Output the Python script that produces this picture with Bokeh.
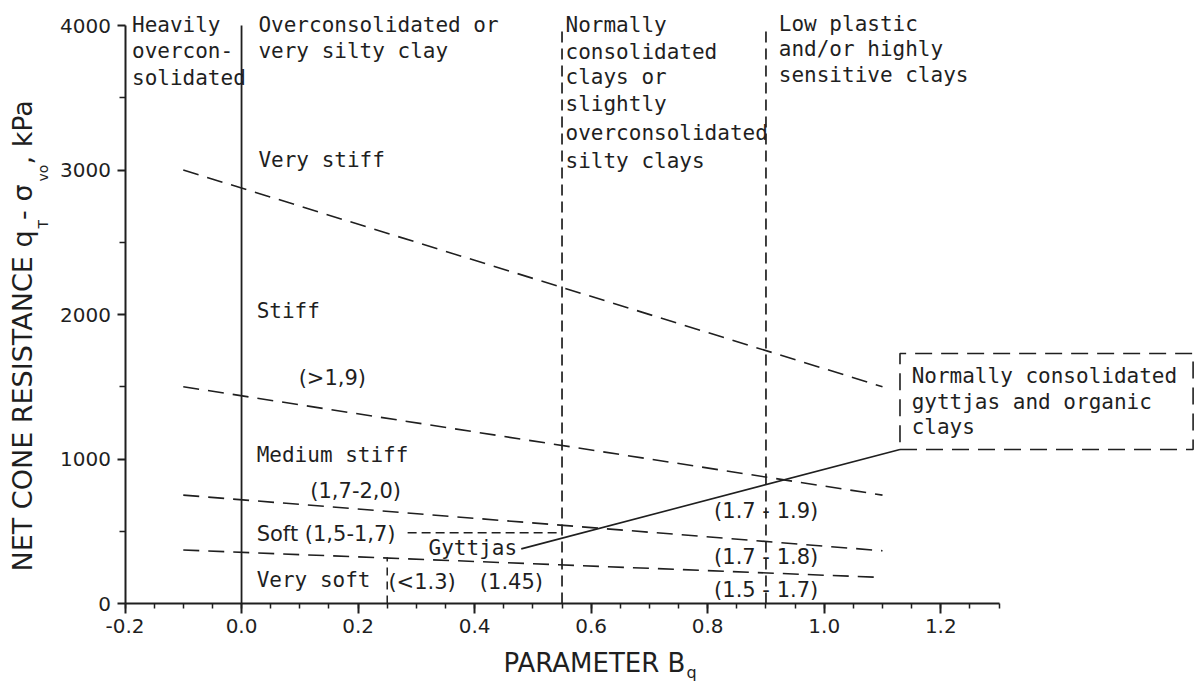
import math
from bokeh.plotting import figure
from bokeh.models import Range1d, FixedTicker, PrintfTickFormatter, ColumnDataSource
from bokeh.core.properties import value
from bokeh.embed import file_html
from bokeh.resources import INLINE

# ---------------- data ----------------
x_ticks = [-0.2, 0.0, 0.2, 0.4, 0.6, 0.8, 1.0, 1.2]
x_minor = [-0.2, -0.15, -0.1, -0.05, 0.0, 0.05, 0.1, 0.15, 0.2, 0.25, 0.3, 0.35,
           0.4, 0.45, 0.5, 0.55, 0.6, 0.65, 0.7, 0.75, 0.8, 0.85, 0.9, 0.95,
           1.0, 1.05, 1.1, 1.15, 1.2, 1.25, 1.3]
y_ticks = [0, 1000, 2000, 3000, 4000]
y_minor = [500, 1500, 2500, 3500]

# stiffness boundaries (dashed, sloping)
bound_x0 = [-0.1, -0.1, -0.1, -0.1]
bound_y0 = [3000, 1500, 750, 370]
bound_x1 = [1.1, 1.1, 1.1, 1.1]
bound_y1 = [1500, 750, 365, 180]

# soil type dividers
solid_div_x = [0.0]
solid_div_top = [4000]
dashed_div_x = [0.55, 0.9]
dashed_div_top = [3970, 3970]
vsoft_div_x = [0.25]
vsoft_div_top = [320]
gyttja_upper_x = [0.285, 0.55]
gyttja_upper_y = [490, 490]

# gyttja / organic clay line
gyttja_x = [0.48, 1.13]
gyttja_y = [378, 1066]

# organic clay box
box_x = [1.13, 1.633]
box_y = [1066, 1730]

# region text (lettering)
word_text = ["Heavily", "overcon-", "solidated",
             "Overconsolidated or", "very silty clay",
             "Normally", "consolidated", "clays or", "slightly", "overconsolidated", "silty clays",
             "Low plastic", "and/or highly", "sensitive clays",
             "Very stiff", "Stiff", "Medium stiff", "Very soft", "Gyttjas",
             "Normally consolidated", "gyttjas and organic", "clays"]
word_x = [-0.188, -0.188, -0.188,
          0.029, 0.029,
          0.556, 0.556, 0.556, 0.556, 0.556, 0.556,
          0.922, 0.922, 0.922,
          0.029, 0.026, 0.026, 0.026, 0.321,
          1.150, 1.150, 1.150]
word_y = [3945, 3765, 3578,
          3945, 3765,
          3945, 3758, 3585, 3398, 3204, 3010,
          3952, 3779, 3599,
          3017, 1972, 969, 104, 332,
          1522, 1336, 1163]

# numeric class text
num_text = ["(>1,9)", "(1,7-2,0)", "Soft (1,5-1,7)", "(<1.3)", "(1.45)",
            "(1.7 - 1.9)", "(1.7 - 1.8)", "(1.5 - 1.7)"]
num_x = [0.098, 0.118, 0.026, 0.252, 0.409, 0.811, 0.811, 0.811]
num_y = [1502, 720, 425, 90, 90, 588, 263, 35]

INK = "#1f1f1f"

# canvas geometry: frame covers the whole canvas, axes are fixed at x=-0.2 / y=0
W, H = 1196, 684
PXX = 582.7   # px per unit of B_q
PXY = 0.1445  # px per kPa
X0PX = 124.5  # canvas px of B_q = -0.2
Y0PX = 603.0  # canvas px of 0 kPa


def px_to_x(px):
    return (px - X0PX) / PXX - 0.2


def py_to_y(py):
    return (Y0PX - py) / PXY


p = figure(width=W, height=H,
           x_range=Range1d(px_to_x(0), px_to_x(W)), y_range=Range1d(py_to_y(H), py_to_y(0)),
           output_backend="svg", toolbar_location=None,
           min_border_left=0, min_border_bottom=0, min_border_top=0, min_border_right=0)
p.outline_line_color = None
p.xgrid.grid_line_color = None
p.ygrid.grid_line_color = None
p.background_fill_color = "white"
p.border_fill_color = "white"

for ax in (p.xaxis, p.yaxis):
    ax.axis_line_width = 2
    ax.axis_line_color = INK
    ax.major_tick_line_width = 2
    ax.major_tick_line_color = INK
    ax.minor_tick_line_width = 1.5
    ax.minor_tick_line_color = INK
    ax.major_tick_in = 0
    ax.minor_tick_in = 0
    ax.major_label_text_font = "DejaVu Sans"
    ax.major_label_text_font_size = "20px"
    ax.major_label_text_color = INK

p.xaxis.ticker = FixedTicker(ticks=x_ticks, minor_ticks=x_minor)
p.xaxis.formatter = PrintfTickFormatter(format="%.1f")
p.xaxis.bounds = (-0.2, 1.3)
p.xaxis.fixed_location = 0
p.xaxis.major_tick_out = 10
p.xaxis.minor_tick_out = 5
p.xaxis.major_label_standoff = 5

p.yaxis.ticker = FixedTicker(ticks=y_ticks, minor_ticks=y_minor)
p.yaxis.bounds = (0, 4000)
p.yaxis.fixed_location = -0.2
p.yaxis.major_tick_out = 8
p.yaxis.minor_tick_out = 6
p.yaxis.major_label_standoff = 6

# stiffness boundaries
p.segment(x0=bound_x0, y0=bound_y0, x1=bound_x1, y1=bound_y1,
          line_color=INK, line_width=1.6, line_dash="16 9")

# soil type dividers
p.segment(x0=solid_div_x, y0=[0] * len(solid_div_x), x1=solid_div_x, y1=solid_div_top,
          line_color=INK, line_width=1.8)
p.segment(x0=dashed_div_x, y0=[0] * len(dashed_div_x), x1=dashed_div_x, y1=dashed_div_top,
          line_color=INK, line_width=1.7, line_dash="11 6")
p.segment(x0=vsoft_div_x, y0=[0], x1=vsoft_div_x, y1=vsoft_div_top,
          line_color=INK, line_width=1.5, line_dash="8 6")
p.line(x=gyttja_upper_x, y=gyttja_upper_y, line_color=INK, line_width=1.5, line_dash="9 5")

# gyttja line
p.line(x=gyttja_x, y=gyttja_y, line_color=INK, line_width=1.6)

# organic clay box
p.line(x=[box_x[0], box_x[1], box_x[1], box_x[0], box_x[0]],
       y=[box_y[0], box_y[0], box_y[1], box_y[1], box_y[0]],
       line_color=INK, line_width=1.6, line_dash="17 9")

# texts
p.text(x="x", y="y", text="text",
       source=ColumnDataSource(dict(x=word_x, y=word_y, text=word_text)),
       text_font=value("DejaVu Sans Mono"), text_font_size=value("21px"),
       text_color=INK, text_align="left", text_baseline="alphabetic", y_offset=-8)
p.text(x="x", y="y", text="text",
       source=ColumnDataSource(dict(x=num_x, y=num_y, text=num_text)),
       text_font=value("DejaVu Sans"), text_font_size=value("21px"),
       text_color=INK, text_align="left", text_baseline="alphabetic", y_offset=-8)

# axis titles (with subscripts); positions in canvas px, converted through the scales
x_title = [("PARAMETER B", "26px", 503, 662), ("q", "16px", 686, 672)]
for txt, fs, bx, by in x_title:
    p.text(x=[px_to_x(bx)], y=[py_to_y(by)], text=[txt],
           text_font=value("DejaVu Sans"), text_font_size=value(fs), text_color=INK,
           text_align="left", text_baseline="alphabetic")

y_title = [("NET CONE RESISTANCE q", "27px", 22, 571),
           ("T", "14px", 42, 228),
           (" - \u03c3", "27px", 22, 219.4),
           ("vo", "14px", 42, 181),
           (", kPa", "27px", 22, 164)]
for txt, fs, bx, sy in y_title:
    p.text(x=[px_to_x(bx)], y=[py_to_y(sy)], text=[txt], angle=math.pi / 2,
           text_font=value("DejaVu Sans"), text_font_size=value(fs), text_color=INK,
           text_align="left", text_baseline="alphabetic")

open("out.html", "w").write(file_html(p, INLINE))
